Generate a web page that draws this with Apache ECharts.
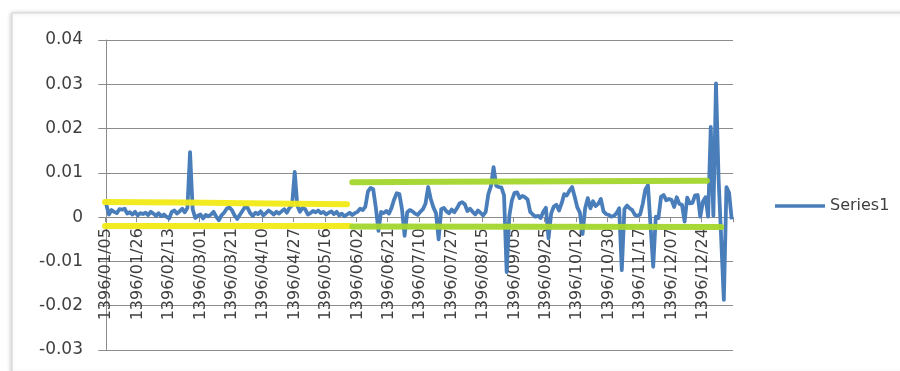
<!DOCTYPE html>
<html>
<head>
<meta charset="utf-8">
<script src="https://cdn.jsdelivr.net/npm/echarts@6/dist/echarts.min.js"></script>
<style>
  html, body { margin: 0; padding: 0; background: #ffffff; }
  #chart { width: 900px; height: 371px; }
</style>
</head>
<body>
<div id="chart"></div>
<script>
// Daily returns for 1396, one value per trading day
const tickLabels = [
  '1396/01/05', '1396/01/26', '1396/02/13', '1396/03/01', '1396/03/21',
  '1396/04/10', '1396/04/27', '1396/05/16', '1396/06/02', '1396/06/21',
  '1396/07/10', '1396/07/27', '1396/08/15', '1396/09/05', '1396/09/25',
  '1396/10/12', '1396/10/30', '1396/11/17', '1396/12/07', '1396/12/24'
];
const labelStep = 12;

const series1 = [
  0.0028, 0.0006, 0.0016, 0.0012, 0.0009, 0.0018, 0.0017, 0.0019, 0.0008, 0.0011,
  0.0006, 0.0012, 0.0004, 0.0009, 0.0007, 0.0010, 0.0005, 0.0012, 0.0008, 0.0003,
  0.0009, 0.0002, 0.0006, 0.0001, -0.0003, 0.0012, 0.0015, 0.0008, 0.0013, 0.0019,
  0.0011, 0.0021, 0.0147, 0.0018, -0.0002, 0.0003, 0.0006, -0.0003, 0.0005, 0.0002,
  0.0006, 0.0012, 0.0001, -0.0007, 0.0004, 0.0010, 0.0019, 0.0022, 0.0016, 0.0004,
  -0.0004, 0.0005, 0.0014, 0.0023, 0.0021, 0.0009, 0.0003, 0.0010, 0.0007, 0.0013,
  0.0004, 0.0009, 0.0015, 0.0011, 0.0006, 0.0012, 0.0008, 0.0013, 0.0018, 0.0010,
  0.0021, 0.0027, 0.0102, 0.0026, 0.0012, 0.0021, 0.0018, 0.0006, 0.0009, 0.0014,
  0.0011, 0.0015, 0.0009, 0.0012, 0.0006, 0.0010, 0.0013, 0.0007, 0.0012, 0.0004,
  0.0008, 0.0002, 0.0006, 0.0010, 0.0005, 0.0009, 0.0012, 0.0019, 0.0016, 0.0024,
  0.0058, 0.0066, 0.0063, 0.0022, -0.0031, 0.0012, 0.0009, 0.0014, 0.0008, 0.0021,
  0.0040, 0.0054, 0.0052, 0.0018, -0.0042, 0.0011, 0.0016, 0.0013, 0.0008, 0.0005,
  0.0012, 0.0018, 0.0031, 0.0068, 0.0041, 0.0022, 0.0009, -0.0050, 0.0018, 0.0021,
  0.0013, 0.0009, 0.0017, 0.0011, 0.0020, 0.0031, 0.0034, 0.0029, 0.0014, 0.0019,
  0.0012, 0.0006, 0.0015, 0.0010, 0.0004, 0.0012, 0.0052, 0.0070, 0.0113, 0.0071,
  0.0068, 0.0067, 0.0049, -0.0124, 0.0002, 0.0038, 0.0055, 0.0056, 0.0043, 0.0048,
  0.0045, 0.0040, 0.0012, 0.0006, 0.0001, 0.0003, -0.0002, 0.0012, 0.0021, -0.0048,
  0.0008, 0.0024, 0.0028, 0.0015, 0.0031, 0.0052, 0.0049, 0.0060, 0.0068, 0.0046,
  0.0022, 0.0010, -0.0038, 0.0020, 0.0043, 0.0020, 0.0036, 0.0025, 0.0030, 0.0041,
  0.0013, 0.0007, 0.0005, 0.0001, 0.0003, 0.0009, 0.0020, -0.0120, 0.0018, 0.0026,
  0.0020, 0.0016, 0.0005, 0.0003, 0.0006, 0.0030, 0.0062, 0.0072, -0.0020, -0.0112,
  0.0001, -0.0002, 0.0046, 0.0050, 0.0038, 0.0041, 0.0039, 0.0023, 0.0045, 0.0030,
  0.0028, -0.0010, 0.0044, 0.0031, 0.0032, 0.0049, 0.0050, 0.0001, 0.0035, 0.0045,
  0.0001, 0.0204, 0.0003, 0.0302, 0.0085, -0.0050, -0.0187, 0.0068, 0.0055, -0.0005
];

// Hand-drawn band markers: [day position, value]
const yellowUpper = [[-0.5, 0.0034], [30, 0.0033], [62, 0.0031], [92, 0.0029]];
const yellowLower = [[-0.5, -0.0020], [93, -0.0020]];
const greenUpper = [[94, 0.0079], [130, 0.0080], [229.5, 0.0082]];
const greenLower = [[94, -0.0021], [235, -0.0022]];

const yMin = -0.03, yMax = 0.04, yStep = 0.01;

// category names: a date on every labelled day, blank elsewhere
const categories = series1.map((_, i) =>
  i % labelStep === 0 ? (tickLabels[i / labelStep] || '') : '');

const axisGrey = '#8c8c8c';
const textGrey = '#3f3f3f';
const fontFamily = 'DejaVu Sans';

const gridTop = 40, gridBottom = 21, chartHeight = 371;
const plotHeight = chartHeight - gridTop - gridBottom;
// the date axis sits on the zero line, labels included
const zeroOffset = -plotHeight * (0 - yMin) / (yMax - yMin);

const chart = echarts.init(document.getElementById('chart'), null, { renderer: 'canvas' });

function marker(data, color, z) {
  return {
    type: 'line',
    xAxisIndex: 1,
    data: data,
    symbol: 'none',
    silent: true,
    z: z,
    lineStyle: { color: color, width: 6, cap: 'round', opacity: 0.95 }
  };
}

chart.setOption({
  animation: false,
  backgroundColor: '#ffffff',
  graphic: [
    {
      type: 'rect',
      z: -10,
      shape: { x: 12, y: 13, width: 900, height: 360 },
      style: { fill: '#ffffff', stroke: '#d6d6d6', lineWidth: 1,
               shadowColor: 'rgba(0,0,0,0.18)', shadowBlur: 4, shadowOffsetX: -1 }
    }
  ],
  grid: { left: 105, right: 167, top: gridTop, bottom: gridBottom, containLabel: false,
          outerBoundsMode: 'none' },
  legend: {
    data: [{ name: 'Series1', icon: 'rect' }],
    left: 770,
    top: 193,
    itemWidth: 50,
    itemHeight: 3.5,
    textStyle: { fontFamily: fontFamily, fontSize: 16, color: textGrey }
  },
  xAxis: [
    {
      type: 'category',
      data: categories,
      boundaryGap: true,
      position: 'bottom',
      offset: zeroOffset,
      axisLine: { onZero: false, lineStyle: { color: axisGrey, width: 1 } },
      axisTick: { show: true, interval: labelStep - 1, length: 5,
                  lineStyle: { color: axisGrey } },
      axisLabel: {
        interval: labelStep - 1,
        rotate: 90,
        margin: 11,
        fontFamily: fontFamily,
        fontSize: 16,
        color: textGrey
      },
      splitLine: { show: false }
    },
    {
      type: 'value',
      min: -0.5,
      max: series1.length - 0.5,
      show: false
    }
  ],
  yAxis: {
    type: 'value',
    min: yMin,
    max: yMax,
    interval: yStep,
    axisLine: { show: true, lineStyle: { color: axisGrey, width: 1 } },
    axisTick: { show: true, length: 8, lineStyle: { color: axisGrey } },
    axisLabel: {
      margin: 22,
      fontFamily: fontFamily,
      fontSize: 17,
      color: textGrey,
      formatter: v => (Math.abs(v) < 1e-9 ? '0' : v.toFixed(2))
    },
    splitLine: { show: true, lineStyle: { color: axisGrey, width: 1 } }
  },
  series: [
    {
      name: 'Series1',
      type: 'line',
      data: series1,
      symbol: 'none',
      z: 3,
      lineStyle: { color: '#4a7ebb', width: 3.8, join: 'round' },
      itemStyle: { color: '#4a7ebb' }
    },
    marker(yellowUpper, '#f2ea16', 4),
    marker(yellowLower, '#f2ea16', 4),
    marker(greenUpper, '#a3d62c', 4),
    marker(greenLower, '#a3d62c', 4)
  ]
});
</script>
</body>
</html>
